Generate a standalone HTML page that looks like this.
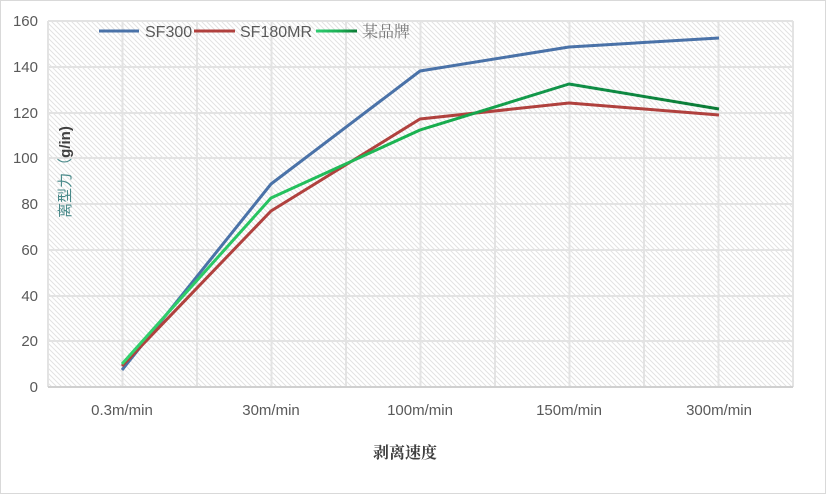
<!DOCTYPE html>
<html><head><meta charset="utf-8"><style>
body{margin:0;background:#fff}
svg{display:block;font-family:"Liberation Sans","Noto Sans CJK SC",sans-serif}
</style></head><body>
<svg width="826" height="494" viewBox="0 0 826 494" xmlns="http://www.w3.org/2000/svg">
<defs>
<pattern id="h" width="5" height="5" patternUnits="userSpaceOnUse">
<path d="M-1,-1 L6,6 M-1,4 L1,6 M4,-1 L6,1" stroke="#e2e2e2" stroke-width="1"/>
</pattern>
<linearGradient id="g" gradientUnits="userSpaceOnUse" x1="316" x2="357" y1="0" y2="0"><stop offset="0" stop-color="#2ecc71"/><stop offset="0.6" stop-color="#1aab50"/><stop offset="1" stop-color="#0b7a35"/></linearGradient>
<linearGradient id="gl" gradientUnits="userSpaceOnUse" x1="122" x2="719" y1="0" y2="0"><stop offset="0" stop-color="#33d36f"/><stop offset="0.5" stop-color="#19b14f"/><stop offset="0.75" stop-color="#109048"/><stop offset="1" stop-color="#0b7a35"/></linearGradient>
</defs>
<rect x="0.5" y="0.5" width="825" height="493" fill="#fff" stroke="#d9d9d9"/>
<rect x="48" y="21" width="745" height="366" fill="url(#h)"/>
<g stroke="#e3e3e3" stroke-width="2">
<line x1="48" x2="793" y1="21" y2="21"/><line x1="48" x2="793" y1="67" y2="67"/><line x1="48" x2="793" y1="113" y2="113"/><line x1="48" x2="793" y1="158" y2="158"/><line x1="48" x2="793" y1="204" y2="204"/><line x1="48" x2="793" y1="250" y2="250"/><line x1="48" x2="793" y1="296" y2="296"/><line x1="48" x2="793" y1="341" y2="341"/>
<line x1="48" x2="48" y1="21" y2="387"/><line x1="122.5" x2="122.5" y1="21" y2="387"/><line x1="197" x2="197" y1="21" y2="387"/><line x1="271.5" x2="271.5" y1="21" y2="387"/><line x1="346" x2="346" y1="21" y2="387"/><line x1="420.5" x2="420.5" y1="21" y2="387"/><line x1="495" x2="495" y1="21" y2="387"/><line x1="569.5" x2="569.5" y1="21" y2="387"/><line x1="644" x2="644" y1="21" y2="387"/><line x1="718.5" x2="718.5" y1="21" y2="387"/><line x1="793" x2="793" y1="21" y2="387"/>
</g>
<line x1="48" x2="793" y1="387" y2="387" stroke="#d0d0d0" stroke-width="2"/>
<g font-size="15" fill="#595959" text-anchor="end">
<text x="38" y="26">160</text><text x="38" y="72">140</text><text x="38" y="118">120</text><text x="38" y="163">100</text><text x="38" y="209">80</text><text x="38" y="255">60</text><text x="38" y="301">40</text><text x="38" y="346">20</text><text x="38" y="392">0</text>
</g>
<g font-size="15" fill="#595959" text-anchor="middle">
<text x="122" y="415">0.3m/min</text><text x="271" y="415">30m/min</text><text x="420" y="415">100m/min</text><text x="569" y="415">150m/min</text><text x="719" y="415">300m/min</text>
</g>
<text x="405" y="458" font-size="16" font-weight="bold" fill="#404040" text-anchor="middle" font-family="'Noto Serif CJK SC',serif">剥离速度</text>
<text transform="translate(70,172) rotate(-90)" font-size="15" fill="#4a8a8a" text-anchor="middle" font-family="'Noto Sans CJK SC',sans-serif">离型力（<tspan font-weight="bold" fill="#404040" font-family="'Liberation Sans',sans-serif">g/in)</tspan></text>
<g fill="none" stroke-width="3" stroke-linejoin="round">
<polyline stroke="#4a72a8" points="122,370 271,184 420,71 569,47 719,38"/>
<polyline stroke="#b0413e" points="122,366 271,211 420,119 569,103 719,115"/>
<polyline stroke="url(#gl)" points="122,364 271,198 420,130 569,84 719,109"/>
</g>
<g stroke-width="3">
<line x1="99" x2="139" y1="31" y2="31" stroke="#4a72a8"/>
<line x1="194" x2="235" y1="31" y2="31" stroke="#b0413e"/>
<line x1="316" x2="357" y1="31" y2="31" stroke="url(#g)"/>
</g>
<g font-size="16" fill="#595959">
<text x="145" y="37">SF300</text><text x="240" y="37">SF180MR</text><text x="362" y="37" font-family="'Noto Serif CJK SC',serif" fill="#777">某品牌</text>
</g>
</svg>
</body></html>
